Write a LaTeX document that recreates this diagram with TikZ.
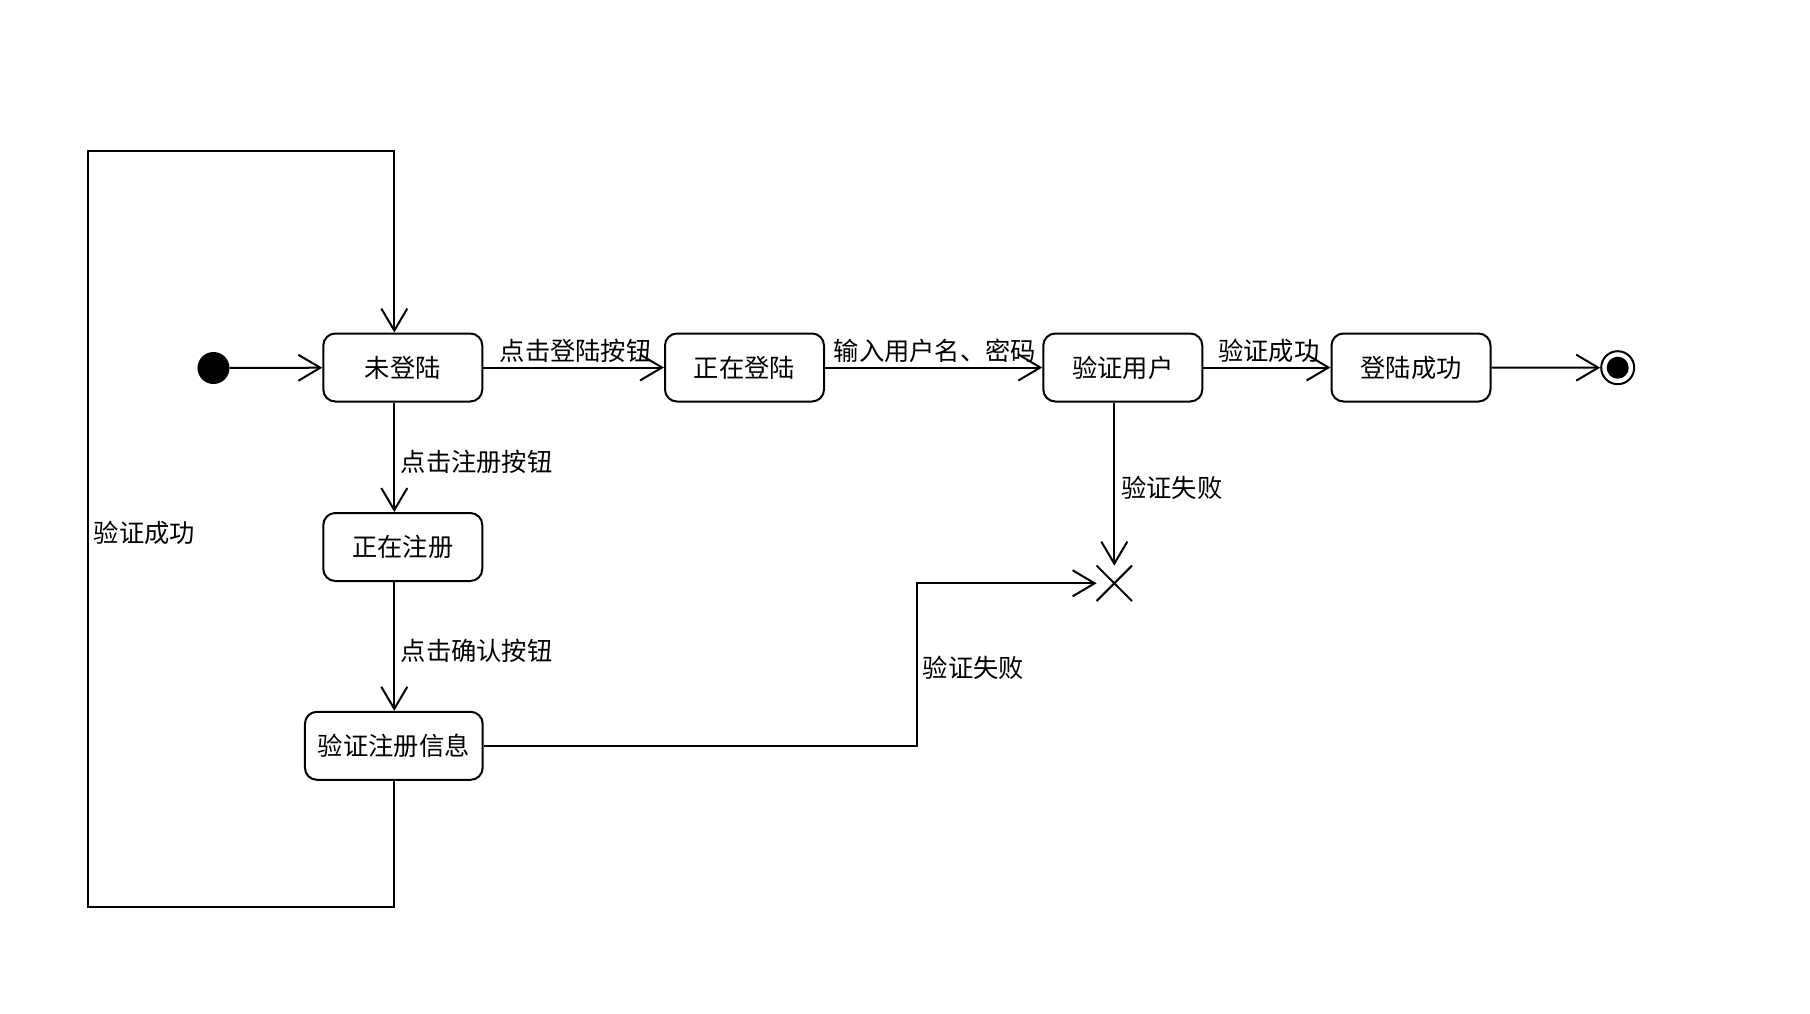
\documentclass[tikz,border=0pt]{standalone}
\usepackage{fontspec}
\newfontfamily\cjk{Noto Sans CJK SC}
\usetikzlibrary{arrows.meta, positioning}

\tikzset{
  state/.style={draw, line width=2pt, rounded corners=12pt, minimum height=68pt,
    minimum width=159pt, inner sep=0pt, font=\cjk\fontsize{25.3}{29}\selectfont},
  lbl/.style={anchor=west, inner sep=0pt, font=\cjk\fontsize{25.3}{29}\selectfont},
  arr/.style={line width=2pt, -{Straight Barb[length=22pt, width=26pt, line width=2pt]}},
  conn/.style={line width=2pt}
}

\begin{document}
\begin{tikzpicture}[x=1pt, y=-1pt]

  \useasboundingbox (0,0) rectangle (1810,1014);

  % Start / end
  \node[circle, fill=black, minimum size=32pt, inner sep=0pt] (start) at (213.5,368) {};
  \node[circle, draw, line width=2pt, fill=white, minimum size=33pt, inner sep=0pt] (end) at (1617.7,367.7) {};
  \fill (end.center) circle (11);

  % States — top row
  \foreach \n/\x/\txt in {s1/402.8/未登陆, s2/744.5/正在登陆, s3/1122.8/验证用户, s4/1411/登陆成功}{
    \node[state] (\n) at (\x,367.5) {\txt};
  }

  % States — register column
  \node[state] (r1) at (402.8,547) {正在注册};
  \node[state, minimum width=177.7pt] (r2) at (393.8,745.8) {验证注册信息};

  % Terminate
  \node[minimum size=35pt, inner sep=0pt] (term) at (1114.3,583.3) {};
  \draw[conn] (term.north west) -- (term.south east);
  \draw[conn] (term.north east) -- (term.south west);

  \coordinate (vx) at (394.3,0);
  \coordinate (tx) at (1114.3,0);

  % Transitions — top row
  \draw[arr] (start) -- (s1);
  \draw[arr] (s1) -- (s2);
  \draw[arr] (s2) -- (s3);
  \draw[arr] (s3) -- (s4);
  \draw[arr] (s4) -- (end);

  % Transitions — register column
  \draw[arr] (s1.south -| vx) -- (r1.north -| vx);
  \draw[arr] (r1.south -| vx) -- (r2.north -| vx);
  \draw[arr] (r2.south -| vx) -- (394.3,907.3) -- (87.7,907.3) -- (87.7,151.2)
    -- (394.3,151.2) -- (s1.north -| vx);

  % Failures
  \draw[arr] (s3.south -| tx) -- (term.north);
  \draw[arr] (r2.east) -- (916.5,745.8) -- (916.5,583.3) -- (term.west);

  % Labels
  \node[lbl] (l1) at (499.5,351) {点击登陆按钮};
  \node[lbl] (l2) at (833.5,351) {输入用户名、密码};
  \node[lbl] (l3) at (1218,351) {验证成功};
  \node[lbl] (l4) at (400.5,462) {点击注册按钮};
  \node[lbl] (l5) at (400.5,651) {点击确认按钮};
  \node[lbl] (l6) at (93.7,533) {验证成功};
  \node[lbl] (l7) at (1121,488) {验证失败};
  \node[lbl] (l8) at (922.5,668) {验证失败};

\end{tikzpicture}
\end{document}
